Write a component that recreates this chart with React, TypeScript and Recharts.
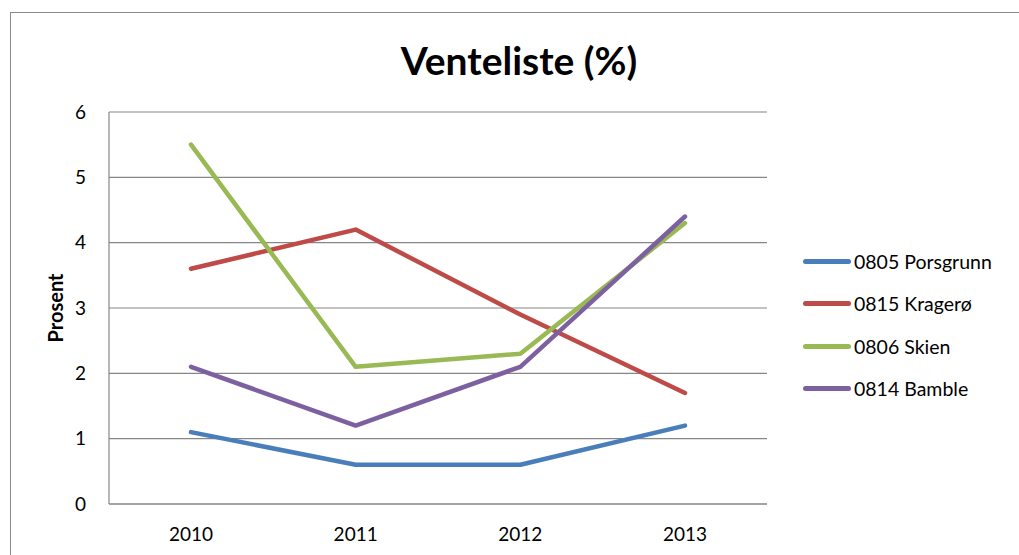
import { LineChart, Line, XAxis, YAxis, CartesianGrid } from 'recharts'

const years = ['2010', '2011', '2012', '2013']
const porsgrunn = [1.1, 0.6, 0.6, 1.2]
const kragero = [3.6, 4.2, 2.9, 1.7]
const skien = [5.5, 2.1, 2.3, 4.3]
const bamble = [2.1, 1.2, 2.1, 4.4]
const yTicks = [0, 1, 2, 3, 4, 5, 6]

const series = [
  { key: 'porsgrunn', name: '0805 Porsgrunn', color: '#4A7EBB' },
  { key: 'kragero', name: '0815 Kragerø', color: '#BE4B48' },
  { key: 'skien', name: '0806 Skien', color: '#98B954' },
  { key: 'bamble', name: '0814 Bamble', color: '#7D60A0' },
]

const data = years.map((year, i) => ({
  year,
  porsgrunn: porsgrunn[i],
  kragero: kragero[i],
  skien: skien[i],
  bamble: bamble[i],
}))

const font = 'Lato, "Open Sans", sans-serif'

function LegendBox() {
  return (
    <div style={{ position: 'absolute', left: 803, top: 240, fontFamily: font, fontSize: 19.5, color: '#000' }}>
      {series.map((s) => (
        <div key={s.key} style={{ display: 'flex', alignItems: 'center', height: 42.5 }}>
          <div style={{ width: 48, height: 5, borderRadius: 3, background: s.color, marginRight: 3 }} />
          <span>{s.name}</span>
        </div>
      ))}
    </div>
  )
}

export default function App() {
  return (
    <div style={{ position: 'absolute', left: 0, top: 0, width: 1019, height: 555, overflow: 'hidden', background: '#fff' }}>
      <div
        style={{
          position: 'absolute',
          left: 10,
          top: 12,
          width: 1100,
          height: 700,
          border: '1.5px solid #8a8a8a',
        }}
      />
      <div
        style={{
          position: 'absolute',
          left: 0,
          width: 1038,
          top: 36,
          textAlign: 'center',
          fontFamily: font,
          fontWeight: 'bold',
          fontSize: 39,
          lineHeight: '48px',
        }}
      >
        Venteliste (%)
      </div>
      <div
        style={{
          position: 'absolute',
          left: 55,
          top: 308,
          transform: 'translate(-50%, -50%) rotate(-90deg)',
          fontFamily: font,
          fontWeight: 'bold',
          fontSize: 20,
          whiteSpace: 'nowrap',
        }}
      >
        Prosent
      </div>
      <div style={{ position: 'absolute', left: 0, top: 0 }}>
        <LineChart width={1019} height={555} data={data} margin={{ top: 112, right: 252, left: 69, bottom: 21 }}>
          <CartesianGrid vertical={false} stroke="#868686" strokeWidth={1.2} />
          <XAxis
            dataKey="year"
            height={30}
            padding={{ left: 82, right: 82 }}
            axisLine={{ stroke: '#868686', strokeWidth: 1.2 }}
            tickLine={false}
            tickSize={0}
            tickMargin={24}
            tick={{ fontSize: 19, fill: '#000', fontFamily: font }}
          />
          <YAxis
            width={40}
            domain={[0, 6]}
            ticks={yTicks}
            axisLine={{ stroke: '#868686', strokeWidth: 1.2 }}
            tickLine={false}
            tickSize={0}
            tickMargin={23}
            tick={{ fontSize: 19, fill: '#000', fontFamily: font }}
          />
          {series.map((s) => (
            <Line
              key={s.key}
              type="linear"
              dataKey={s.key}
              name={s.name}
              stroke={s.color}
              strokeWidth={4.5}
              strokeLinecap="round"
              strokeLinejoin="round"
              dot={false}
              activeDot={false}
              isAnimationActive={false}
            />
          ))}
        </LineChart>
      </div>
      <LegendBox />
    </div>
  )
}
